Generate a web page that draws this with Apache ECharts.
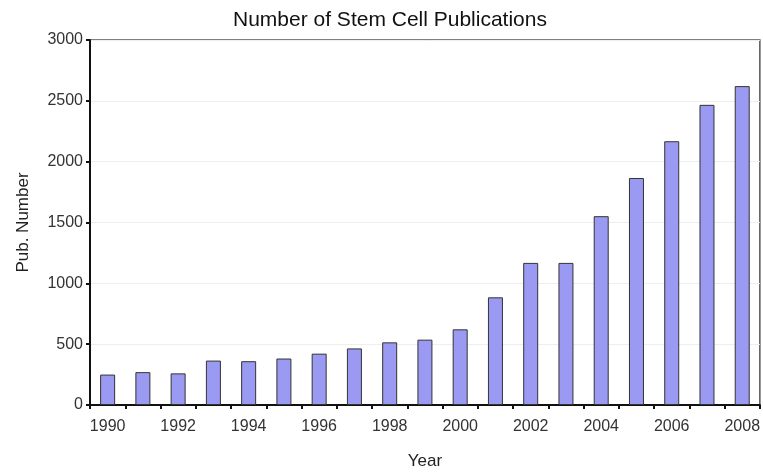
<!DOCTYPE html>
<html>
<head>
<meta charset="utf-8">
<script src="https://cdn.jsdelivr.net/npm/echarts@6/dist/echarts.min.js"></script>
<style>html,body{margin:0;padding:0;background:#fff}#c{width:763px;height:475px}</style>
</head>
<body>
<div id="c"></div>
<script>
const years = ['1990','1991','1992','1993','1994','1995','1996','1997','1998','1999','2000','2001','2002','2003','2004','2005','2006','2007','2008'];
const pubNumbers = [250, 270, 260, 365, 360, 382, 422, 465, 515, 537, 622, 885, 1168, 1168, 1552, 1866, 2168, 2467, 2621];
const yTicks = [0, 500, 1000, 1500, 2000, 2500, 3000];
const titleText = 'Number of Stem Cell Publications';
const xName = 'Year';
const yName = 'Pub. Number';

const chart = echarts.init(document.getElementById('c'), null, {renderer: 'canvas'});
const font = 'Liberation Sans, Arial, sans-serif';
chart.setOption({
  animation: false,
  backgroundColor: '#fff',
  title: {
    text: titleText, left: 228, top: 5,
    textStyle: {fontFamily: font, fontSize: 21, fontWeight: 'normal', color: '#111'}
  },
  grid: {left: 90, right: 2, top: 40, bottom: 60, show: true, borderColor: '#555', borderWidth: 1.5, backgroundColor: 'transparent'},
  xAxis: {
    type: 'category', data: years,
    name: xName, nameLocation: 'middle', nameGap: 48,
    nameTextStyle: {fontFamily: font, fontSize: 17, color: '#222'},
    axisLine: {lineStyle: {color: '#111', width: 2}},
    axisTick: {show: true, interval: 0, alignWithLabel: false, length: 4, lineStyle: {color: '#111', width: 2}},
    axisLabel: {interval: 1, fontFamily: font, fontSize: 16, color: '#333', margin: 14}
  },
  yAxis: {
    type: 'value', min: yTicks[0], max: yTicks[yTicks.length - 1], interval: yTicks[1] - yTicks[0],
    name: yName, nameLocation: 'middle', nameGap: 58, nameRotate: 90,
    nameTextStyle: {fontFamily: font, fontSize: 17, color: '#222'},
    axisLine: {show: true, lineStyle: {color: '#111', width: 2}},
    axisTick: {show: true, length: 4, lineStyle: {color: '#111', width: 2}},
    axisLabel: {fontFamily: font, fontSize: 16, color: '#333', margin: 7, formatter: v => String(v)},
    splitLine: {show: true, lineStyle: {color: '#eeeeee', width: 1}}
  },
  series: [{
    type: 'bar', data: pubNumbers, barWidth: 15,
    itemStyle: {color: '#9a9af2', borderColor: '#333', borderWidth: 1}
  }]
});
</script>
</body>
</html>
